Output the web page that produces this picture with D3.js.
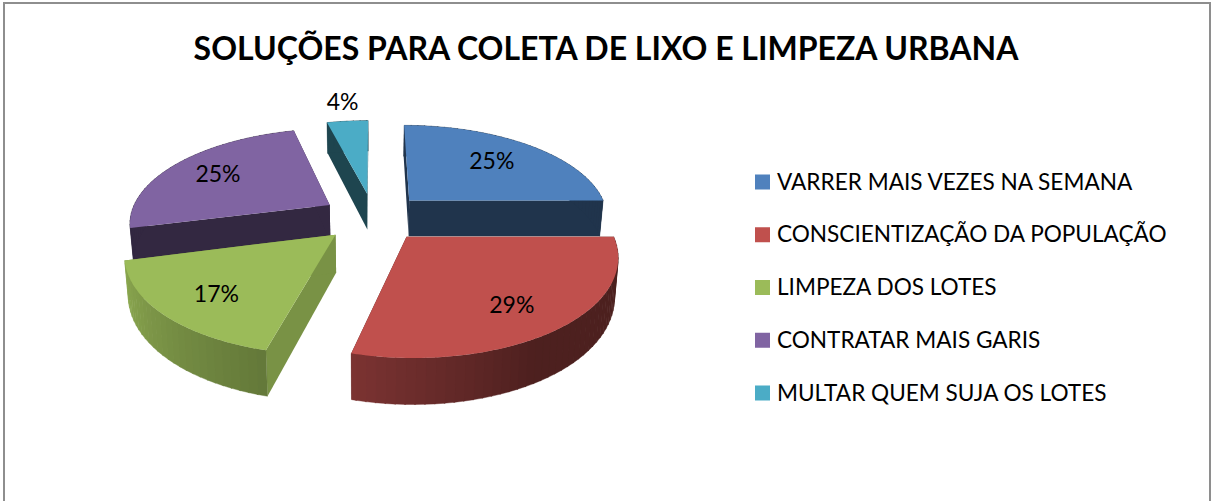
<!DOCTYPE html>
<html>
<head>
<meta charset="utf-8">
<script src="https://cdn.jsdelivr.net/npm/d3@7"></script>
<style>
    html, body { margin: 0; padding: 0; background: #fff; overflow: hidden; }
    text { font-family: Lato, "Open Sans", sans-serif; fill: #000; }
</style>
</head>
<body>
<svg id="chart" width="1211" height="501"></svg>
<script>
const chart_title = "SOLUÇÕES PARA COLETA DE LIXO E LIMPEZA URBANA";
const categories = [
    "VARRER MAIS VEZES NA SEMANA",
    "CONSCIENTIZAÇÃO DA POPULAÇÃO",
    "LIMPEZA DOS LOTES",
    "CONTRATAR MAIS GARIS",
    "MULTAR QUEM SUJA OS LOTES"
];
const values = [25, 29, 17, 25, 4];
const colors = ["#4f81bd", "#c0504d", "#9bbb59", "#8064a2", "#4bacc6"];

// projection of the pie plane, fitted by eye to the picture
const cx = 373.5, cy = 217;
const rx = 200, ry = 93;
const persp = 0.17;
const explode = 0.26;
const depth = 37;
const bottom_shrink = 0.985;

const svg = d3.select("#chart");

// outer frame, the bottom edge falls outside the picture
svg.append("rect")
    .attr("x", 4)
    .attr("y", 3)
    .attr("width", 1206)
    .attr("height", 600)
    .attr("fill", "none")
    .attr("stroke", "#8e8e8e")
    .attr("stroke-width", 2);

svg.append("text")
    .attr("x", 606)
    .attr("y", 60)
    .attr("text-anchor", "middle")
    .style("font-size", "32px")
    .style("font-weight", "bold")
    .text(chart_title);

function project(u, v, low) {
    let w = 1 + persp * v;
    let x = rx * u / w;
    let y = -ry * v / w;
    if (low) {
        x = x * bottom_shrink;
        y = y + depth / w;
    }
    return [cx + x, cy + y];
}

const arcs = d3.pie().sort(null).value(d => d)(values);

// only red and green show a lit rim, the others stay flat dark
const rimShade = d3.scaleLinear()
    .domain([0, 150, 194, 255, 360])
    .range([0.4, 0.4, 0.64, 0.9, 0.9]);
const wallShade = [0.4, 0.4, 0.78, 0.4, 0.4];
const litRim = [false, true, true, false, false];

function shade(color, k) {
    return d3.interpolateRgb("#000", color)(k);
}

const pts = a => a.map(p => p.join(",")).join(" ");

const pieG = svg.append("g");
const drawOrder = [0, 4, 3, 2, 1];

drawOrder.forEach(function (i) {
    const d = arcs[i];
    const mid = (d.startAngle + d.endAngle) / 2;
    const ou = explode * Math.sin(mid);
    const ov = explode * Math.cos(mid);
    const at = (a, r, low) => project(ou + r * Math.sin(a), ov + r * Math.cos(a), low);
    const g = pieG.append("g");
    const color = colors[i];

    // radial walls
    [d.startAngle, d.endAngle].forEach(function (a) {
        g.append("polygon")
            .attr("points", pts([at(a, 0, false), at(a, 1, false), at(a, 1, true), at(a, 0, true)]))
            .attr("fill", shade(color, wallShade[i]));
    });

    // rim, split in small bands
    const bands = d3.range(d.startAngle, d.endAngle, 0.04);
    bands.forEach(function (a) {
        const b = Math.min(a + 0.045, d.endAngle);
        const deg = (a + b) / 2 * 180 / Math.PI;
        const k = litRim[i] ? rimShade(deg) : wallShade[i];
        g.append("polygon")
            .attr("points", pts([at(a, 1, false), at(b, 1, false), at(b, 1, true), at(a, 1, true)]))
            .attr("fill", shade(color, k))
            .attr("stroke", shade(color, k))
            .attr("stroke-width", 0.4);
    });

    // top face
    const top = [at(d.startAngle, 0, false)];
    d3.range(d.startAngle, d.endAngle, 0.02).forEach(a => top.push(at(a, 1, false)));
    top.push(at(d.endAngle, 1, false));
    g.append("polygon")
        .attr("points", pts(top))
        .attr("fill", color);
});

// percent labels, distance from the slice tip in radius units
const labelR = [0.67, 0.72, 0.72, 0.72, 1.3];
const labelDy = [-2, 4, 3, -1, -2];
arcs.forEach(function (d, i) {
    const mid = (d.startAngle + d.endAngle) / 2;
    const r = explode + labelR[i];
    const p = project(r * Math.sin(mid), r * Math.cos(mid), false);
    svg.append("text")
        .attr("x", p[0])
        .attr("y", p[1] + labelDy[i])
        .attr("text-anchor", "middle")
        .attr("dominant-baseline", "central")
        .style("font-size", "23px")
        .text(d.value + "%");
});

// legend
const legendY = d3.scalePoint().domain(categories).range([182, 393]);
const legend = svg.append("g");
categories.forEach(function (c, i) {
    legend.append("rect")
        .attr("x", 755)
        .attr("y", legendY(c) - 7.5)
        .attr("width", 15)
        .attr("height", 15)
        .attr("fill", colors[i]);
    legend.append("text")
        .attr("x", 777)
        .attr("y", legendY(c) - 1)
        .attr("dominant-baseline", "central")
        .style("font-size", "22.6px")
        .text(c);
});
</script>
</body>
</html>
